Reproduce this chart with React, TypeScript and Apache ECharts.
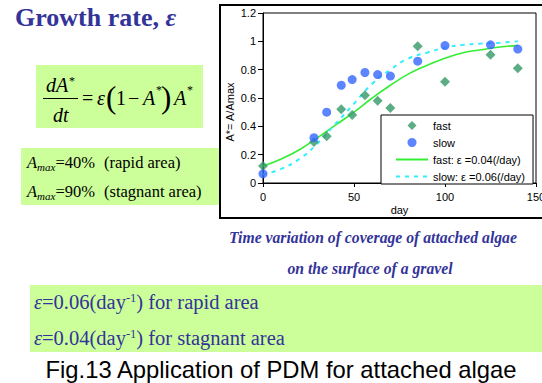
import React, { useEffect, useRef } from 'react';
import * as echarts from 'echarts';

// ---- data ----
const sampleDays = [0, 28, 35, 43, 49, 56, 63, 70, 85, 100, 125, 140];
const fastValues = [0.12, 0.29, 0.33, 0.52, 0.48, 0.62, 0.58, 0.53, 0.965, 0.715, 0.905, 0.81];
const slowValues = [0.065, 0.32, 0.5, 0.69, 0.73, 0.78, 0.765, 0.755, 0.86, 0.97, 0.975, 0.945];

const curveDays = [0, 10, 20, 30, 40, 50, 60, 70, 80, 90, 100, 110, 120, 130, 140];
const fastCurve = [0.12, 0.17, 0.235, 0.32, 0.41, 0.5, 0.6, 0.69, 0.77, 0.83, 0.88, 0.92, 0.94, 0.96, 0.97];
const slowCurve = [0.06, 0.1, 0.17, 0.28, 0.42, 0.56, 0.7, 0.8, 0.88, 0.92, 0.955, 0.975, 0.985, 0.99, 1.0];

const seriesNames = ['fast', 'slow', 'fast: ε =0.04(/day)', 'slow: ε =0.06(/day)'];
const xTicks = { min: 0, max: 150, interval: 50 };
const yTicks = { min: 0, max: 1.2, interval: 0.2 };

const SERIF = '"Liberation Serif","Times New Roman",serif';
const SANS = '"Liberation Sans",Arial,sans-serif';
const BLUE = '#333399';
const PALE_GREEN = '#ccff99';

function txt(x: number, y: number, text: string, o: any = {}) {
  return {
    type: 'text',
    x,
    y,
    z: 10,
    style: {
      text,
      fontFamily: SERIF,
      fontSize: 20,
      fill: '#000',
      align: 'left',
      verticalAlign: 'middle',
      ...o,
    },
  };
}

const epsRich = {
  e: { fontFamily: SERIF, fontSize: 20.5, fontStyle: 'italic', fill: BLUE },
  n: { fontFamily: SERIF, fontSize: 20.5, fill: BLUE },
  s: { fontFamily: SERIF, fontSize: 12.5, fill: BLUE, verticalAlign: 'top' },
};

export default function App() {
  const ref = useRef<HTMLDivElement>(null);

  useEffect(() => {
    const chart = echarts.init(ref.current!, null, { renderer: 'svg' });

    const graphic: any[] = [
      // chart frame
      {
        type: 'rect',
        z: -5,
        shape: { x: 220, y: 5, width: 340, height: 213 },
        style: { fill: '#fff', stroke: '#000', lineWidth: 2 },
      },
      // pale green boxes
      { type: 'rect', z: -6, shape: { x: 36, y: 65, width: 167, height: 63 }, style: { fill: PALE_GREEN } },
      { type: 'rect', z: -6, shape: { x: 21, y: 148, width: 200, height: 57 }, style: { fill: PALE_GREEN } },
      { type: 'rect', z: -6, shape: { x: 30, y: 285, width: 520, height: 67 }, style: { fill: PALE_GREEN } },
      // title
      {
        type: 'text',
        x: 15,
        y: 17,
        z: 10,
        style: {
          text: '{a|Growth rate, }{b|ε}',
          verticalAlign: 'middle',
          rich: {
            a: { fontFamily: SERIF, fontSize: 26, fontWeight: 'bold', fill: BLUE },
            b: { fontFamily: SERIF, fontSize: 26, fontWeight: 'bold', fontStyle: 'italic', fill: BLUE },
          },
        },
      },
      // formula dA*/dt = ε(1−A*)A*
      txt(46, 85, 'dA', { fontStyle: 'italic' }),
      txt(69, 81, '*', { fontSize: 12 }),
      { type: 'line', z: 10, shape: { x1: 43, y1: 98.5, x2: 78, y2: 98.5 }, style: { stroke: '#000', lineWidth: 1 } },
      txt(53, 115, 'dt', { fontStyle: 'italic' }),
      txt(82, 98, '='),
      txt(97, 98, 'ε', { fontStyle: 'italic' }),
      txt(106, 97, '(', { fontSize: 31 }),
      txt(116, 98, '1'),
      txt(128, 98, '−'),
      txt(143, 98, 'A', { fontStyle: 'italic' }),
      txt(156, 90, '*', { fontSize: 12 }),
      txt(161, 97, ')', { fontSize: 31 }),
      txt(174, 98, 'A', { fontStyle: 'italic' }),
      txt(187, 90, '*', { fontSize: 12 }),
      // Amax lines
      txt(27, 162, 'A', { fontSize: 16.5, fontStyle: 'italic' }),
      txt(37, 166.5, 'max', { fontSize: 11, fontStyle: 'italic' }),
      txt(55.5, 162, '=40%', { fontSize: 16.5 }),
      txt(104, 162, '(rapid area)', { fontSize: 16.5 }),
      txt(27, 191.5, 'A', { fontSize: 16.5, fontStyle: 'italic' }),
      txt(37, 196, 'max', { fontSize: 11, fontStyle: 'italic' }),
      txt(55.5, 191.5, '=90%', { fontSize: 16.5 }),
      txt(104, 191.5, '(stagnant area)', { fontSize: 16.5 }),
      // y axis title
      {
        type: 'text',
        x: 230,
        y: 112,
        rotation: Math.PI / 2,
        z: 10,
        style: { text: 'A*= A/Amax', fontFamily: SANS, fontSize: 11, fill: '#000', align: 'center', verticalAlign: 'middle' },
      },
      // captions
      txt(373, 237, 'Time variation of coverage of attached algae', {
        fontSize: 15.7, fontWeight: 'bold', fontStyle: 'italic', fill: BLUE, align: 'center',
      }),
      txt(370, 268, 'on the surface of a gravel', {
        fontSize: 15.7, fontWeight: 'bold', fontStyle: 'italic', fill: BLUE, align: 'center',
      }),
      // epsilon lines
      {
        type: 'text', x: 34, y: 302, z: 10,
        style: { text: '{e|ε}{n|=0.06(day}{s|-1}{n|) for rapid area}', verticalAlign: 'middle', rich: epsRich },
      },
      {
        type: 'text', x: 34, y: 337.5, z: 10,
        style: { text: '{e|ε}{n|=0.04(day}{s|-1}{n|) for stagnant area}', verticalAlign: 'middle', rich: epsRich },
      },
      // figure caption
      {
        type: 'text', x: 281, y: 369, z: 10,
        style: { text: 'Fig.13 Application of PDM for attached algae', fontFamily: SANS, fontSize: 23.8, fill: '#000', align: 'center', verticalAlign: 'middle' },
      },
    ];

    const hiddenSymbol = { opacity: 0 };

    chart.setOption({
      animation: false,
      backgroundColor: '#fff',
      textStyle: { fontFamily: SANS },
      graphic,
      grid: {
        left: 263,
        top: 13,
        width: 273,
        height: 170,
        show: true,
        borderColor: '#000',
        borderWidth: 1,
        backgroundColor: 'transparent',
        outerBoundsMode: 'none',
        containLabel: false,
      },
      legend: {
        data: [
          { name: seriesNames[0], icon: 'path://M5,0L10,5L5,10L0,5Z' },
          { name: seriesNames[1], icon: 'circle' },
          { name: seriesNames[2], itemStyle: hiddenSymbol },
          { name: seriesNames[3], itemStyle: hiddenSymbol },
        ],
        orient: 'vertical',
        left: 381,
        top: 115,
        padding: [5, 8, 2, 14],
        itemGap: 6,
        itemWidth: 32,
        itemHeight: 9,
        symbolKeepAspect: true,
        backgroundColor: '#fff',
        borderColor: '#000',
        borderWidth: 1,
        borderRadius: 0,
        selectedMode: false,
        z: 20,
        textStyle: { color: '#000', fontSize: 11, fontFamily: SANS },
      },
      xAxis: {
        type: 'value',
        ...xTicks,
        name: 'day',
        nameLocation: 'middle',
        nameGap: 21,
        nameTextStyle: { color: '#000', fontSize: 11, fontFamily: SANS },
        axisLine: { show: true, onZero: false, lineStyle: { color: '#000', width: 1 } },
        axisTick: { show: true, length: 4, lineStyle: { color: '#000' } },
        axisLabel: { color: '#000', fontSize: 11, fontFamily: SANS, margin: 8 },
        splitLine: { show: false },
      },
      yAxis: {
        type: 'value',
        ...yTicks,
        axisLine: { show: true, lineStyle: { color: '#000', width: 1 } },
        axisTick: { show: true, length: 5, lineStyle: { color: '#000' } },
        axisLabel: { color: '#000', fontSize: 11, fontFamily: SANS, margin: 7 },
        splitLine: { show: false },
      },
      series: [
        {
          name: seriesNames[0],
          type: 'scatter',
          z: 5,
          symbol: 'diamond',
          symbolSize: 10,
          itemStyle: { color: '#339966' },
          data: sampleDays.map((d, i) => [d, fastValues[i]]),
        },
        {
          name: seriesNames[1],
          type: 'scatter',
          z: 5,
          symbol: 'circle',
          symbolSize: 9,
          itemStyle: { color: '#3366ff' },
          data: sampleDays.map((d, i) => [d, slowValues[i]]),
        },
        {
          name: seriesNames[2],
          type: 'line',
          z: 3,
          smooth: true,
          symbol: 'none',
          itemStyle: { color: '#33ee33' },
          lineStyle: { color: '#33ee33', width: 1.6 },
          data: curveDays.map((d, i) => [d, fastCurve[i]]),
        },
        {
          name: seriesNames[3],
          type: 'line',
          z: 3,
          smooth: true,
          symbol: 'none',
          itemStyle: { color: '#33eeff' },
          lineStyle: { color: '#33eeff', width: 2, type: [4, 5] },
          data: curveDays.map((d, i) => [d, slowCurve[i]]),
        },
      ],
    });

    return () => chart.dispose();
  }, []);

  return (
    <div
      ref={ref}
      style={{ position: 'absolute', left: 0, top: 0, width: 542, height: 383, background: '#fff' }}
    />
  );
}
